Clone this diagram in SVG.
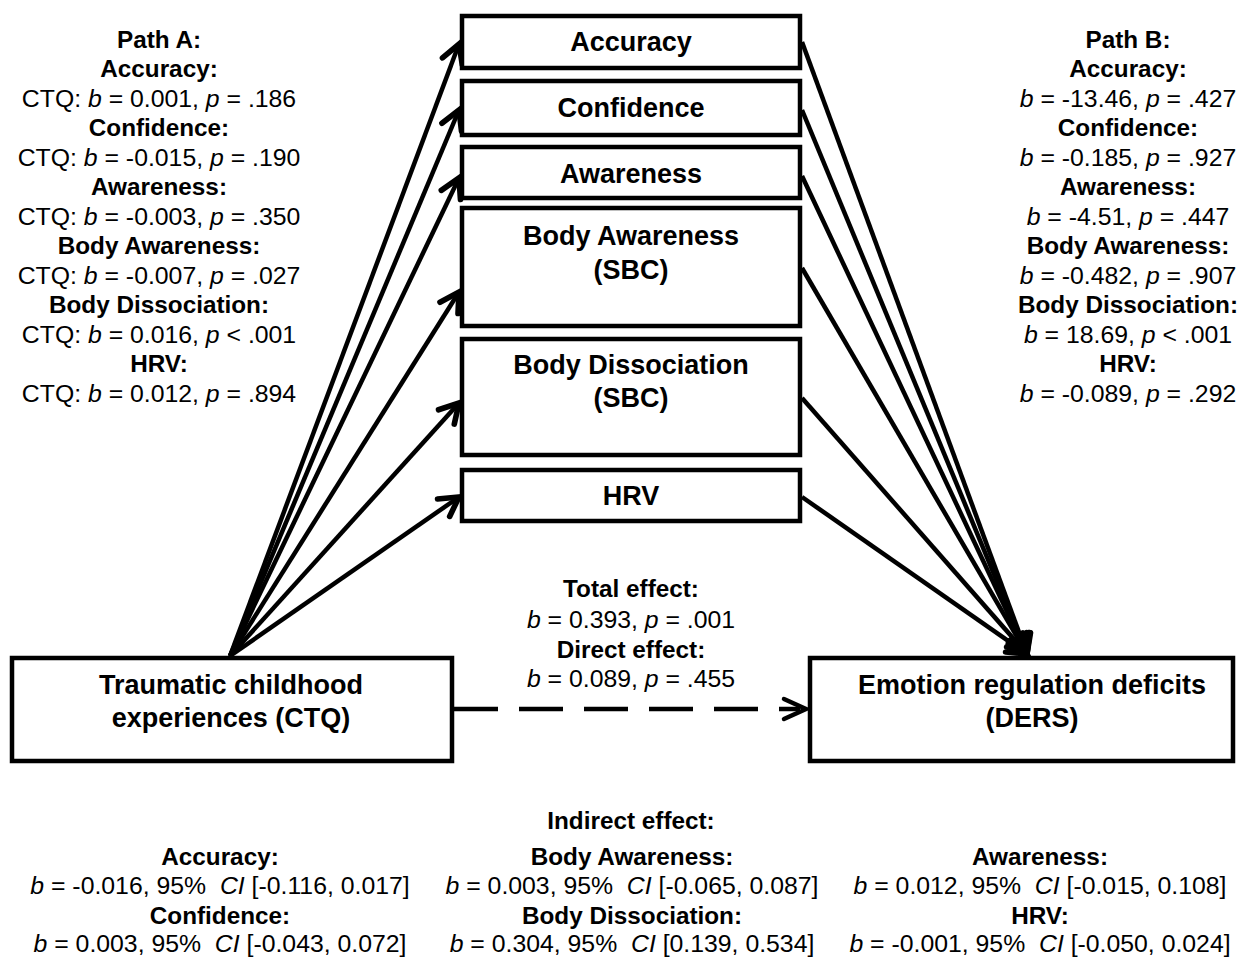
<svg xmlns="http://www.w3.org/2000/svg" width="1240" height="960" viewBox="0 0 1240 960">
<defs>
<style>
text{font-family:"Liberation Sans",Arial,sans-serif;fill:#000;text-anchor:middle;white-space:pre}
.h{font-weight:bold;font-size:24.3px}
.r{font-size:24.8px}
.n{font-weight:bold;font-size:27px}
.box{fill:#fff;stroke:#000;stroke-width:4.5}
.ln{stroke:#000;stroke-width:4.5;fill:none}
</style>
<marker id="ah" markerUnits="userSpaceOnUse" markerWidth="30" markerHeight="30" viewBox="-20 -12 24 24" refX="0" refY="0" orient="auto">
<path d="M-15,-8.5 L0,0 L-15,8.5" fill="none" stroke="#000" stroke-width="4.5" stroke-linecap="round" stroke-linejoin="miter"/>
</marker>
</defs>
<rect width="1240" height="960" fill="#fff"/>

<g id="connectors">
<line class="ln" x1="230" y1="656" x2="459" y2="44" marker-end="url(#ah)"/>
<line class="ln" x1="230" y1="656" x2="459" y2="110" marker-end="url(#ah)"/>
<line class="ln" x1="230" y1="656" x2="459" y2="178" marker-end="url(#ah)"/>
<line class="ln" x1="230" y1="656" x2="459" y2="292" marker-end="url(#ah)"/>
<line class="ln" x1="230" y1="656" x2="459" y2="403" marker-end="url(#ah)"/>
<line class="ln" x1="230" y1="656" x2="459" y2="497" marker-end="url(#ah)"/>
<line class="ln" x1="802" y1="42" x2="1027" y2="654" marker-end="url(#ah)"/>
<line class="ln" x1="802" y1="110" x2="1027" y2="654" marker-end="url(#ah)"/>
<line class="ln" x1="802" y1="176" x2="1027" y2="654" marker-end="url(#ah)"/>
<line class="ln" x1="802" y1="268" x2="1027" y2="654" marker-end="url(#ah)"/>
<line class="ln" x1="802" y1="398" x2="1027" y2="654" marker-end="url(#ah)"/>
<line class="ln" x1="802" y1="497" x2="1027" y2="654" marker-end="url(#ah)"/>
<line class="ln" x1="454" y1="709" x2="800" y2="709" stroke-dasharray="44 21"/>
<path d="M784,699 L806,709 L784,719" fill="none" stroke="#000" stroke-width="4.5" stroke-linecap="round"/>
</g>

<g id="node-accuracy">
<rect class="box" x="462" y="16" width="338" height="52"/>
<text class="n" x="631" y="51">Accuracy</text>
</g>
<g id="node-confidence">
<rect class="box" x="462" y="81" width="338" height="54"/>
<text class="n" x="631" y="117">Confidence</text>
</g>
<g id="node-awareness">
<rect class="box" x="462" y="147" width="338" height="51"/>
<text class="n" x="631" y="183">Awareness</text>
</g>
<g id="node-bodyawareness">
<rect class="box" x="462" y="208" width="338" height="118"/>
<text class="n" x="631" y="245">Body Awareness</text>
<text class="n" x="631" y="279">(SBC)</text>
</g>
<g id="node-bodydissociation">
<rect class="box" x="462" y="339" width="338" height="116"/>
<text class="n" x="631" y="374">Body Dissociation</text>
<text class="n" x="631" y="407">(SBC)</text>
</g>
<g id="node-hrv">
<rect class="box" x="462" y="470" width="338" height="51"/>
<text class="n" x="631" y="505">HRV</text>
</g>
<g id="node-ctq">
<rect class="box" x="12" y="658" width="440" height="103"/>
<text class="n" x="231" y="694">Traumatic childhood</text>
<text class="n" x="231" y="727">experiences (CTQ)</text>
</g>
<g id="node-ders">
<rect class="box" x="810" y="658" width="423" height="103"/>
<text class="n" x="1032" y="694">Emotion regulation deficits</text>
<text class="n" x="1032" y="727">(DERS)</text>
</g>

<g id="path-a">
<text class="h" x="159" y="48">Path A:</text>
<text class="h" x="159" y="77">Accuracy:</text>
<text class="r" x="159" y="107">CTQ: <tspan font-style="italic">b</tspan> = 0.001, <tspan font-style="italic">p</tspan> = .186</text>
<text class="h" x="159" y="136">Confidence:</text>
<text class="r" x="159" y="166">CTQ: <tspan font-style="italic">b</tspan> = -0.015, <tspan font-style="italic">p</tspan> = .190</text>
<text class="h" x="159" y="195">Awareness:</text>
<text class="r" x="159" y="225">CTQ: <tspan font-style="italic">b</tspan> = -0.003, <tspan font-style="italic">p</tspan> = .350</text>
<text class="h" x="159" y="254">Body Awareness:</text>
<text class="r" x="159" y="284">CTQ: <tspan font-style="italic">b</tspan> = -0.007, <tspan font-style="italic">p</tspan> = .027</text>
<text class="h" x="159" y="313">Body Dissociation:</text>
<text class="r" x="159" y="343">CTQ: <tspan font-style="italic">b</tspan> = 0.016, <tspan font-style="italic">p</tspan> &lt; .001</text>
<text class="h" x="159" y="372">HRV:</text>
<text class="r" x="159" y="402">CTQ: <tspan font-style="italic">b</tspan> = 0.012, <tspan font-style="italic">p</tspan> = .894</text>
</g>

<g id="path-b">
<text class="h" x="1128" y="48">Path B:</text>
<text class="h" x="1128" y="77">Accuracy:</text>
<text class="r" x="1128" y="107"><tspan font-style="italic">b</tspan> = -13.46, <tspan font-style="italic">p</tspan> = .427</text>
<text class="h" x="1128" y="136">Confidence:</text>
<text class="r" x="1128" y="166"><tspan font-style="italic">b</tspan> = -0.185, <tspan font-style="italic">p</tspan> = .927</text>
<text class="h" x="1128" y="195">Awareness:</text>
<text class="r" x="1128" y="225"><tspan font-style="italic">b</tspan> = -4.51, <tspan font-style="italic">p</tspan> = .447</text>
<text class="h" x="1128" y="254">Body Awareness:</text>
<text class="r" x="1128" y="284"><tspan font-style="italic">b</tspan> = -0.482, <tspan font-style="italic">p</tspan> = .907</text>
<text class="h" x="1128" y="313">Body Dissociation:</text>
<text class="r" x="1128" y="343"><tspan font-style="italic">b</tspan> = 18.69, <tspan font-style="italic">p</tspan> &lt; .001</text>
<text class="h" x="1128" y="372">HRV:</text>
<text class="r" x="1128" y="402"><tspan font-style="italic">b</tspan> = -0.089, <tspan font-style="italic">p</tspan> = .292</text>
</g>

<g id="effects">
<text class="h" x="631" y="597">Total effect:</text>
<text class="r" x="631" y="628"><tspan font-style="italic">b</tspan> = 0.393, <tspan font-style="italic">p</tspan> = .001</text>
<text class="h" x="631" y="658">Direct effect:</text>
<text class="r" x="631" y="687"><tspan font-style="italic">b</tspan> = 0.089, <tspan font-style="italic">p</tspan> = .455</text>
</g>

<g id="indirect">
<text class="h" x="631" y="829">Indirect effect:</text>
<text class="h" x="220" y="865">Accuracy:</text>
<text class="r" x="220" y="894"><tspan font-style="italic">b</tspan> = -0.016, 95%  <tspan font-style="italic">CI</tspan> [-0.116, 0.017]</text>
<text class="h" x="220" y="924">Confidence:</text>
<text class="r" x="220" y="952"><tspan font-style="italic">b</tspan> = 0.003, 95%  <tspan font-style="italic">CI</tspan> [-0.043, 0.072]</text>
<text class="h" x="632" y="865">Body Awareness:</text>
<text class="r" x="632" y="894"><tspan font-style="italic">b</tspan> = 0.003, 95%  <tspan font-style="italic">CI</tspan> [-0.065, 0.087]</text>
<text class="h" x="632" y="924">Body Dissociation:</text>
<text class="r" x="632" y="952"><tspan font-style="italic">b</tspan> = 0.304, 95%  <tspan font-style="italic">CI</tspan> [0.139, 0.534]</text>
<text class="h" x="1040" y="865">Awareness:</text>
<text class="r" x="1040" y="894"><tspan font-style="italic">b</tspan> = 0.012, 95%  <tspan font-style="italic">CI</tspan> [-0.015, 0.108]</text>
<text class="h" x="1040" y="924">HRV:</text>
<text class="r" x="1040" y="952"><tspan font-style="italic">b</tspan> = -0.001, 95%  <tspan font-style="italic">CI</tspan> [-0.050, 0.024]</text>
</g>
</svg>
